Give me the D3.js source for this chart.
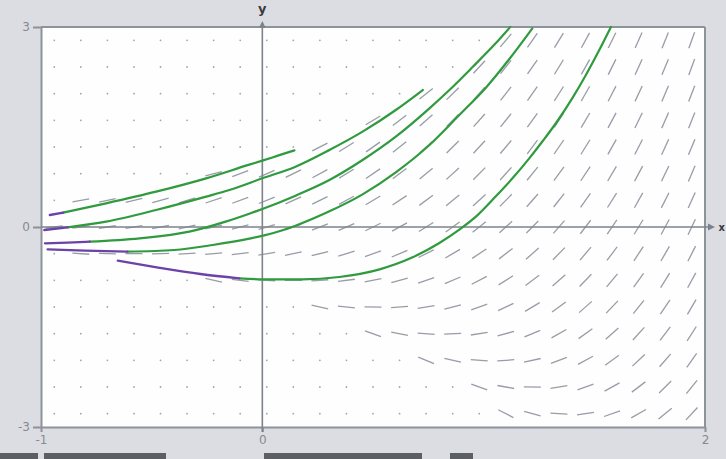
<!DOCTYPE html>
<html lang="en">
<head>
<meta charset="UTF-8">
<title>Slope field</title>
<script src="https://d3js.org/d3.v7.min.js"></script>
<style>
  html, body { margin: 0; padding: 0; background: #dcdde2; }
  body { font-family: "DejaVu Sans", sans-serif; }
</style>
</head>
<body>
<div id="chart"></div>
<script>
const width = 726, height = 459;

// axis ticks
const xTicks = [-1, 0, 2];
const yTicks = [-3, 0, 3];

// slope field grid (cell centres) and slopes read per row, null = dot only
const gridX = [-0.94, -0.82, -0.70, -0.58, -0.46, -0.34, -0.22, -0.10, 0.02, 0.14, 0.26, 0.38, 0.50,
               0.62, 0.74, 0.86, 0.98, 1.10, 1.22, 1.34, 1.46, 1.58, 1.70, 1.82, 1.94];
const gridY = [2.8, 2.4, 2.0, 1.6, 1.2, 0.8, 0.4, 0, -0.4, -0.8, -1.2, -1.6, -2.0, -2.4, -2.8];
const _ = null;
const slopes = [
  [_,_,_,_,_,_,_,_,_,_,_,_,_,_,_,_,_, 3.89,4.71,5.40,6.07,6.77,7.50,8.30,9.17],
  [_,_,_,_,_,_,_,_,_,_,_,_,_,_,_,_, 3.56,4.21,4.79,5.37,5.98,6.62,7.32,8.09,8.93],
  [_,_,_,_,_,_,_,_,_,_,_,_,_,_, 2.63,3.26,3.76,4.24,4.73,5.25,5.81,6.42,7.10,7.84,8.67],
  [_,_,_,_,_,_,_,_,_,_,_,_, 2.00,2.55,2.95,3.34,3.73,4.14,4.59,5.07,5.60,6.18,6.83,7.56,8.37],
  [_,_,_,_,_,_,_,_,_,_, 1.69,2.04,2.33,2.62,2.92,3.24,3.58,3.95,4.37,4.83,5.34,5.90,6.54,7.25,8.05],
  [_,_,_,_,_,_, 0.86,1.22,1.43,1.63,1.82,2.02,2.24,2.48,2.74,3.02,3.34,3.70,4.09,4.53,5.03,5.59,6.22,6.92,7.71],
  [_, 0.58,0.69,0.79,0.89,0.99,1.10,1.21,1.34,1.48,1.63,1.81,2.00,2.22,2.46,2.73,3.03,3.38,3.76,4.20,4.69,5.24,5.86,6.56,7.35],
  [0.39,0.44,0.50,0.56,0.63,0.71,0.80,0.90,1.02,1.15,1.30,1.46,1.65,1.86,2.10,2.36,2.66,3.00,3.39,3.82,4.31,4.86,5.47,6.17,6.96],
  [_, -0.22,-0.11,-0.01,0.09,0.19,0.30,0.41,0.54,0.68,0.83,1.01,1.20,1.42,1.66,1.93,2.23,2.58,2.96,3.40,3.89,4.44,5.06,5.76,6.55],
  [_,_,_,_,_,_, -0.74,-0.38,-0.17,0.03,0.22,0.42,0.64,0.88,1.14,1.42,1.74,2.10,2.49,2.93,3.43,3.99,4.62,5.32,6.11],
  [_,_,_,_,_,_,_,_,_,_, -0.71,-0.36,-0.07,0.22,0.52,0.84,1.18,1.55,1.97,2.43,2.94,3.50,4.14,4.85,5.66],
  [_,_,_,_,_,_,_,_,_,_,_,_, -1.20,-0.65,-0.25,0.14,0.53,0.94,1.39,1.87,2.40,2.98,3.64,4.36,5.17],
  [_,_,_,_,_,_,_,_,_,_,_,_,_,_, -1.37,-0.74,-0.24,0.24,0.73,1.25,1.81,2.42,3.10,3.84,4.67],
  [_,_,_,_,_,_,_,_,_,_,_,_,_,_,_,_, -1.24,-0.59,-0.01,0.57,1.18,1.82,2.52,3.29,4.13],
  [_,_,_,_,_,_,_,_,_,_,_,_,_,_,_,_,_, -1.71,-0.89,-0.20,0.47,1.17,1.90,2.70,3.57]
];

// solution curves: backward part (purple) and forward part (green)
const purpleCurves = [
  [[-0.96, 0.18], [-0.90, 0.215]],
  [[-0.985, -0.045], [-0.88, -0.005]],
  [[-0.982, -0.245], [-0.88, -0.235], [-0.78, -0.22]],
  [[-0.97, -0.335], [-0.8, -0.355], [-0.61, -0.37]],
  [[-0.653, -0.505], [-0.477, -0.605], [-0.28, -0.705], [-0.104, -0.77]]
];
const greenCurves = [
  [[-0.90, 0.215], [-0.706, 0.355], [-0.48, 0.53], [-0.254, 0.73], [-0.059, 0.935], [0, 0.995], [0.07, 1.07], [0.145, 1.15]],
  [[-0.88, -0.005], [-0.706, 0.08], [-0.48, 0.255], [-0.254, 0.455], [-0.149, 0.555], [0, 0.73], [0.15, 0.905],
   [0.303, 1.155], [0.453, 1.43], [0.603, 1.755], [0.725, 2.055]],
  [[-0.78, -0.22], [-0.554, -0.17], [-0.33, -0.07], [-0.166, 0.08], [-0.059, 0.2], [0, 0.27], [0.15, 0.47],
   [0.303, 0.705], [0.453, 1.005], [0.603, 1.355], [0.755, 1.78], [0.85, 2.07], [0.95, 2.40], [1.05, 2.74], [1.12, 3.0]],
  [[-0.61, -0.37], [-0.398, -0.345], [-0.224, -0.27], [-0.059, -0.175], [0.05, -0.09], [0.15, 0.02], [0.303, 0.235],
   [0.453, 0.49], [0.603, 0.82], [0.755, 1.23], [0.89, 1.68], [1.01, 2.09], [1.116, 2.52], [1.22, 2.98]],
  [[-0.104, -0.77], [0, -0.785], [0.18, -0.785], [0.348, -0.75], [0.53, -0.635], [0.679, -0.455], [0.80, -0.24],
   [0.89, -0.04], [0.97, 0.17], [1.055, 0.46], [1.13, 0.73], [1.206, 1.03], [1.267, 1.29], [1.327, 1.56],
   [1.40, 1.93], [1.46, 2.27], [1.52, 2.64], [1.575, 3.0]]
];

const svg = d3.select("#chart").append("svg")
    .attr("width", width)
    .attr("height", height)
    .style("display", "block");

const x = d3.scaleLinear().domain([-1, 2]).range([41, 705]);
const y = d3.scaleLinear().domain([-3, 3]).range([427, 27]);

svg.append("rect")
    .attr("width", width).attr("height", height)
    .attr("fill", "#dcdde2");

svg.append("rect")
    .attr("x", x(-1)).attr("y", y(3))
    .attr("width", x(2) - x(-1)).attr("height", y(-3) - y(3))
    .attr("fill", "#fefefe");

// cells of the field
const cells = [];
gridY.forEach((gy, j) => {
    gridX.forEach((gx, k) => {
        cells.push({gx: gx, gy: gy, s: slopes[j][k]});
    });
});

svg.append("g").selectAll("circle")
    .data(cells.filter(d => d.s === null))
    .enter().append("circle")
    .attr("cx", d => x(d.gx))
    .attr("cy", d => y(d.gy))
    .attr("r", 0.9)
    .attr("fill", "#a3a5aa");

const half = 8.5;
function seg(d) {
    const px = x(d.gx), py = y(d.gy);
    const ux = x(d.gx + 1) - px, uy = y(d.gy + d.s) - py;
    const n = Math.hypot(ux, uy);
    return [px - ux / n * half, py - uy / n * half, px + ux / n * half, py + uy / n * half];
}

svg.append("g").selectAll("line")
    .data(cells.filter(d => d.s !== null))
    .enter().append("line")
    .attr("x1", d => seg(d)[0])
    .attr("y1", d => seg(d)[1])
    .attr("x2", d => seg(d)[2])
    .attr("y2", d => seg(d)[3])
    .attr("stroke", "#989ca7")
    .attr("stroke-width", 1.3);

// frame with ticks
const leftAxis = svg.append("g")
    .attr("transform", "translate(" + x(-1) + ",0)")
    .call(d3.axisLeft(y).tickValues(yTicks).tickSize(8).tickSizeOuter(0).tickFormat(d => String(d)));
const bottomAxis = svg.append("g")
    .attr("transform", "translate(0," + y(-3) + ")")
    .call(d3.axisBottom(x).tickValues(xTicks).tickSize(5).tickSizeOuter(0).tickFormat(d => String(d)));

[leftAxis, bottomAxis].forEach(g => {
    g.attr("color", "#8d939a").attr("font-size", 12).attr("font-family", "DejaVu Sans, sans-serif");
    g.selectAll("path, line").attr("stroke-width", 2);
    g.selectAll("text").attr("fill", "#868a90");
});

svg.append("line")
    .attr("x1", x(-1)).attr("x2", x(2))
    .attr("y1", y(3)).attr("y2", y(3))
    .attr("stroke", "#8d939a").attr("stroke-width", 2);
svg.append("line")
    .attr("x1", x(2)).attr("x2", x(2))
    .attr("y1", y(3)).attr("y2", y(-3))
    .attr("stroke", "#8d939a").attr("stroke-width", 2);

// axes through the origin
svg.append("line")
    .attr("x1", x(-1)).attr("x2", x(2) + 7)
    .attr("y1", y(0)).attr("y2", y(0))
    .attr("stroke", "#7d838b").attr("stroke-width", 1.6);
svg.append("path")
    .attr("d", "M" + (x(2) + 3) + "," + (y(0) - 3.5) + "L" + (x(2) + 10) + "," + y(0) + "L" + (x(2) + 3) + "," + (y(0) + 3.5) + "Z")
    .attr("fill", "#7d838b");
svg.append("line")
    .attr("x1", x(0)).attr("x2", x(0))
    .attr("y1", y(-3) + 5).attr("y2", y(3) - 4)
    .attr("stroke", "#7d838b").attr("stroke-width", 1.6);
svg.append("path")
    .attr("d", "M" + (x(0) - 3.5) + "," + (y(3) + 1) + "L" + x(0) + "," + (y(3) - 6) + "L" + (x(0) + 3.5) + "," + (y(3) + 1) + "Z")
    .attr("fill", "#7d838b");

svg.append("text")
    .attr("x", x(0)).attr("y", 13)
    .attr("text-anchor", "middle")
    .attr("font-size", 13).attr("font-weight", "bold")
    .attr("fill", "#3a3a3a")
    .text("y");
svg.append("text")
    .attr("x", x(2) + 13.5).attr("y", y(0) + 4)
    .attr("font-size", 10).attr("font-weight", "bold")
    .attr("fill", "#3a3a3a")
    .text("x");

// solution curves
const line = d3.line()
    .x(d => x(d[0]))
    .y(d => y(d[1]))
    .curve(d3.curveMonotoneX);

svg.append("g").selectAll("path")
    .data(greenCurves)
    .enter().append("path")
    .attr("d", line)
    .attr("fill", "none")
    .attr("stroke", "#2f9a3e")
    .attr("stroke-width", 2.2)
    .attr("stroke-linecap", "round");

svg.append("g").selectAll("path")
    .data(purpleCurves)
    .enter().append("path")
    .attr("d", line)
    .attr("fill", "none")
    .attr("stroke", "#6b42a8")
    .attr("stroke-width", 2.4)
    .attr("stroke-linecap", "round");

// toolbar edges at the bottom
const bars = [[0, 38], [44, 166], [264, 422], [450, 473]];
svg.append("g").selectAll("rect")
    .data(bars)
    .enter().append("rect")
    .attr("x", d => d[0]).attr("y", 453)
    .attr("width", d => d[1] - d[0]).attr("height", 6)
    .attr("fill", "#5b5f64");
</script>
</body>
</html>
